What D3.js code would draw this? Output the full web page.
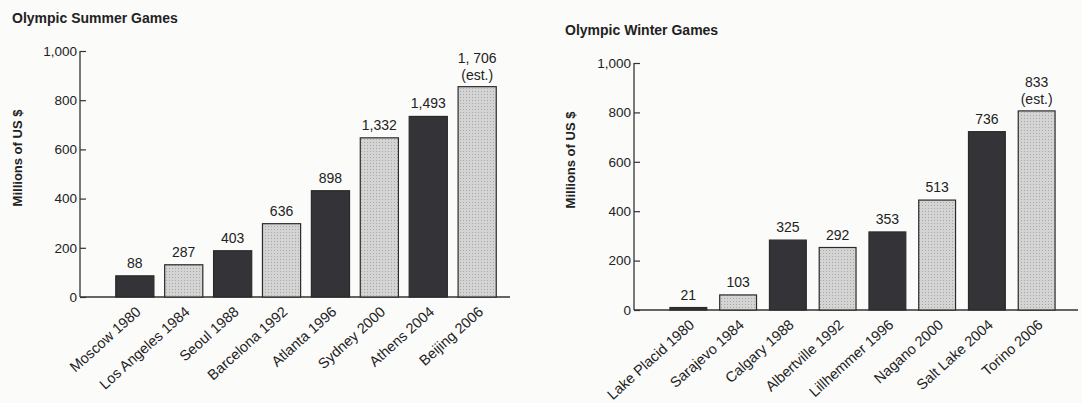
<!DOCTYPE html>
<meta charset="utf-8">
<style>
    body { margin: 0; background: #fbfbfa; }
    text { font-family: "Liberation Sans", Arial, Helvetica, sans-serif; fill: #222; }
</style>
<div id="olympics"></div>
<script src="https://d3js.org/d3.v7.min.js"></script>
<script>
    // Summer games: bar heights as drawn against the axis, and the printed labels
    var summerGames = ["Moscow 1980", "Los Angeles 1984", "Seoul 1988", "Barcelona 1992",
                       "Atlanta 1996", "Sydney 2000", "Athens 2004", "Beijing 2006"];
    var summerValues = [86, 131, 188, 298, 432, 647, 734, 855];
    var summerLabels = ["88", "287", "403", "636", "898", "1,332", "1,493", "1, 706"];

    // Winter games
    var winterGames = ["Lake Placid 1980", "Sarajevo 1984", "Calgary 1988", "Albertville 1992",
                       "Lillhemmer 1996", "Nagano 2000", "Salt Lake 2004", "Torino 2006"];
    var winterValues = [10, 61, 283, 253, 316, 445, 722, 806];
    var winterLabels = ["21", "103", "325", "292", "353", "513", "736", "833"];

    var yTicks = [0, 200, 400, 600, 800, 1000];
    var fmt = d3.format(",");

    var svg = d3.select("#olympics").append("svg")
        .attr("width", 1082)
        .attr("height", 403);

    function drawChart(opt) {
        var g = svg.append("g");

        var y = d3.scaleLinear()
            .domain([0, 1000])
            .range([opt.y0, opt.y1]);

        var x = d3.scaleBand()
            .domain(opt.games)
            .range([opt.barStart, opt.barEnd])
            .padding(opt.padding);

        // title
        g.append("text")
            .attr("x", opt.titleX)
            .attr("y", opt.titleY)
            .style("font-size", "14px")
            .style("font-weight", "bold")
            .text(opt.title);

        // y axis label
        g.append("text")
            .attr("transform", "translate(" + opt.labelX + "," + opt.labelY + ") rotate(-90)")
            .attr("text-anchor", "middle")
            .style("font-size", "13px")
            .style("font-weight", "bold")
            .text("Millions of US $");

        // y axis (ticks point into the plot)
        var yAxis = g.append("g")
            .attr("transform", "translate(" + opt.axisX + ",0)")
            .call(d3.axisRight(y).tickValues(yTicks).tickSize(6).tickFormat(fmt));
        yAxis.select(".domain").remove();
        yAxis.selectAll("line").attr("stroke", "#333").attr("stroke-width", 1.2);
        yAxis.selectAll("text")
            .attr("x", -3)
            .attr("text-anchor", "end")
            .style("font-size", "13.5px")
            .style("font-family", "Liberation Sans, Arial, sans-serif")
            .attr("fill", "#222");

        g.append("line")
            .attr("x1", opt.axisX).attr("x2", opt.axisX)
            .attr("y1", y(1000)).attr("y2", y(0))
            .attr("stroke", "#333").attr("stroke-width", 1.3);
        g.append("line")
            .attr("x1", opt.axisX).attr("x2", opt.baseEnd)
            .attr("y1", y(0)).attr("y2", y(0))
            .attr("stroke", "#333").attr("stroke-width", 1.3);

        // bars
        g.selectAll(".bar")
            .data(opt.values)
            .enter()
            .append("rect")
                .attr("class", "bar")
                .attr("x", function(d, i) { return x(opt.games[i]); })
                .attr("width", x.bandwidth())
                .attr("y", function(d) { return y(d); })
                .attr("height", function(d) { return y(0) - y(d); })
                .attr("fill", function(d, i) { return i % 2 === 0 ? "#333338" : "url(#stipple)"; })
                .attr("stroke", "#2a2a2a")
                .attr("stroke-width", 1.2);

        // value labels
        g.selectAll(".val")
            .data(opt.values)
            .enter()
            .append("text")
                .attr("class", "val")
                .attr("x", function(d, i) { return x(opt.games[i]) + x.bandwidth() / 2; })
                .attr("y", function(d, i) {
                    return y(d) - (i === opt.values.length - 1 ? 24 : 8);
                })
                .attr("text-anchor", "middle")
                .style("font-size", "14px")
                .text(function(d, i) { return opt.labels[i]; });

        var last = opt.values.length - 1;
        g.append("text")
            .attr("x", x(opt.games[last]) + x.bandwidth() / 2)
            .attr("y", y(opt.values[last]) - 7)
            .attr("text-anchor", "middle")
            .style("font-size", "14px")
            .text("(est.)");

        // category labels
        g.selectAll(".cat")
            .data(opt.games)
            .enter()
            .append("text")
                .attr("class", "cat")
                .attr("transform", function(d) {
                    return "translate(" + (x(d) + x.bandwidth() / 2 + 7) + "," + (y(0) + 16) + ") rotate(-42)";
                })
                .attr("text-anchor", "end")
                .style("font-size", "14.5px")
                .text(function(d) { return d; });
    }

    // stipple pattern for the light bars
    var pat = svg.append("defs").append("pattern")
        .attr("id", "stipple")
        .attr("width", 3).attr("height", 3)
        .attr("patternUnits", "userSpaceOnUse");
    pat.append("rect").attr("width", 3).attr("height", 3).attr("fill", "#d4d4d4");
    pat.append("rect").attr("x", 1).attr("y", 1).attr("width", 1).attr("height", 1).attr("fill", "#a8a8a8");

    drawChart({
        title: "Olympic Summer Games", titleX: 12, titleY: 23,
        labelX: 22, labelY: 158,
        games: summerGames, values: summerValues, labels: summerLabels,
        axisX: 80, y0: 297, y1: 51,
        barStart: 105, barEnd: 507, padding: 0.22, baseEnd: 510
    });

    drawChart({
        title: "Olympic Winter Games", titleX: 565, titleY: 35,
        labelX: 575, labelY: 160,
        games: winterGames, values: winterValues, labels: winterLabels,
        axisX: 634, y0: 310, y1: 63,
        barStart: 657, barEnd: 1068, padding: 0.26, baseEnd: 1078
    });
</script>
